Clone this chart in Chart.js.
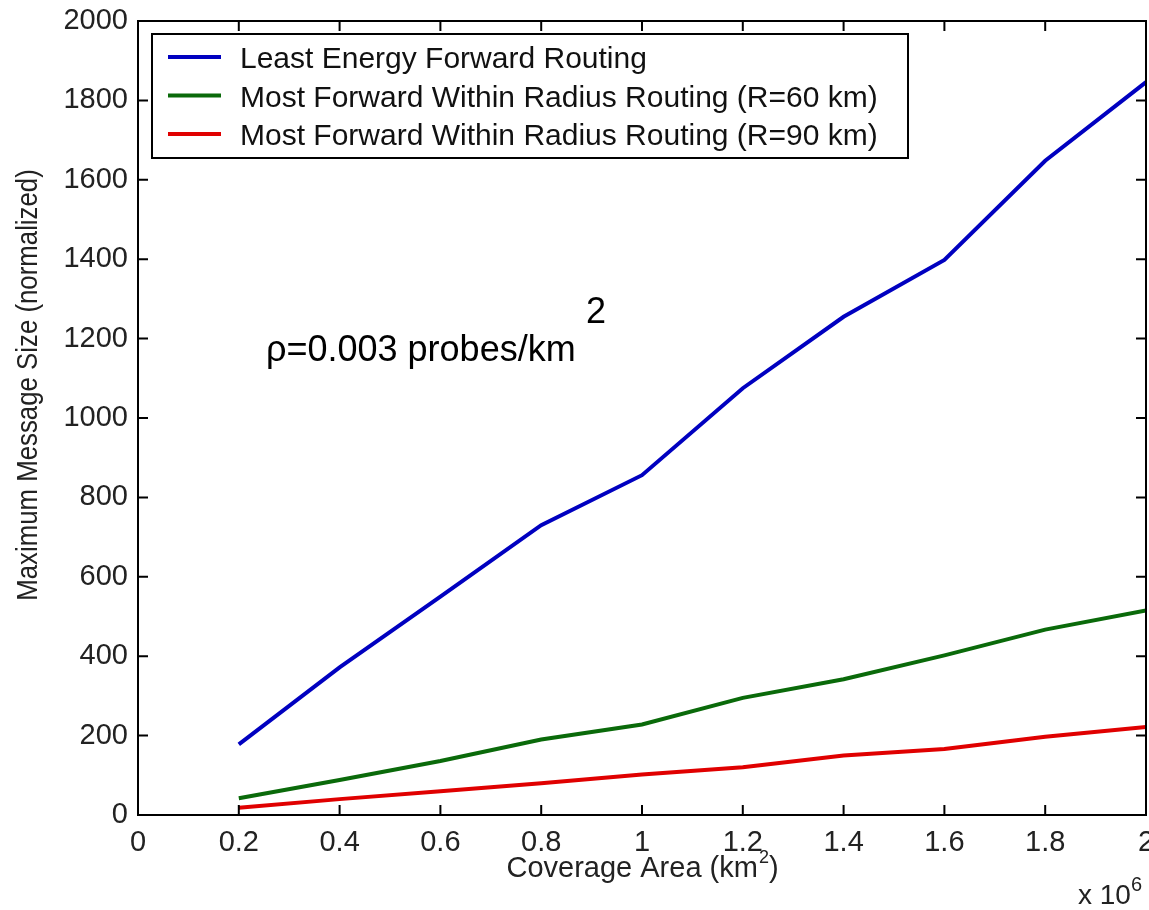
<!DOCTYPE html>
<html>
<head>
<meta charset="utf-8">
<script src="https://cdn.jsdelivr.net/npm/chart.js@4"></script>
<style>
  html, body { margin: 0; padding: 0; background: #fff; }
  #wrap { width: 1149px; height: 910px; }
</style>
</head>
<body>
<div id="wrap"><canvas id="chart"></canvas></div>
<script>
const area = [0.2, 0.4, 0.6, 0.8, 1.0, 1.2, 1.4, 1.6, 1.8, 2.0];
const leastEnergy = [178, 372, 550, 730, 856, 1075, 1255, 1398, 1648, 1846];
const mostForward60 = [42, 88, 136, 190, 228, 295, 342, 402, 467, 515];
const mostForward90 = [18, 40, 60, 80, 102, 120, 150, 166, 197, 222];
const seriesNames = [
  'Least Energy Forward Routing',
  'Most Forward Within Radius Routing (R=60 km)',
  'Most Forward Within Radius Routing (R=90 km)'
];
const seriesColors = ['#0000c0', '#0a6a0a', '#e00000'];

const FONT = '"Liberation Sans", Arial, sans-serif';

function pts(vals) {
  return area.map((x, i) => ({ x: x, y: vals[i] }));
}

// box, inward ticks, legend and free text
const matlabLook = {
  id: 'matlabLook',
  afterDatasetsDraw(chart) {
    const ctx = chart.ctx;
    const a = chart.chartArea;
    const xs = chart.scales.x, ys = chart.scales.y;
    ctx.save();
    ctx.strokeStyle = '#000';
    ctx.lineWidth = 2;
    ctx.strokeRect(a.left, a.top, a.right - a.left, a.bottom - a.top);
    ctx.beginPath();
    xs.ticks.forEach(t => {
      const px = xs.getPixelForValue(t.value);
      ctx.moveTo(px, a.bottom); ctx.lineTo(px, a.bottom - 10);
      ctx.moveTo(px, a.top); ctx.lineTo(px, a.top + 10);
    });
    ys.ticks.forEach(t => {
      const py = ys.getPixelForValue(t.value);
      ctx.moveTo(a.left, py); ctx.lineTo(a.left + 10, py);
      ctx.moveTo(a.right, py); ctx.lineTo(a.right - 10, py);
    });
    ctx.stroke();

    // legend
    const lx = 152, ly = 34, lw = 756, lh = 124;
    ctx.fillStyle = '#fff';
    ctx.fillRect(lx, ly, lw, lh);
    ctx.lineWidth = 2;
    ctx.strokeRect(lx, ly, lw, lh);
    ctx.textBaseline = 'alphabetic';
    ctx.font = '30px ' + FONT;
    chart.data.datasets.forEach((ds, i) => {
      const cy = 57 + i * 38.5;
      ctx.strokeStyle = ds.borderColor;
      ctx.lineWidth = 4;
      ctx.beginPath();
      ctx.moveTo(168, cy); ctx.lineTo(221, cy);
      ctx.stroke();
      ctx.fillStyle = '#111';
      ctx.fillText(ds.label, 240, cy + 11);
    });

    // annotation
    ctx.fillStyle = '#000';
    ctx.font = '36px ' + FONT;
    ctx.fillText('\u03c1=0.003 probes/km', 266, 361);
    ctx.fillText('2', 586, 323);

    // axis titles
    ctx.fillStyle = '#222';
    const t1 = 'Coverage Area (km';
    ctx.font = '29px ' + FONT;
    const w1 = ctx.measureText(t1).width;
    const wp = ctx.measureText(')').width;
    ctx.font = '18px ' + FONT;
    const w2 = ctx.measureText('2').width;
    let x0 = (a.left + a.right) / 2 - (w1 + w2 + wp) / 2;
    ctx.font = '29px ' + FONT;
    ctx.fillText(t1, x0, 877);
    ctx.fillText(')', x0 + w1 + w2 + 1, 877);
    ctx.font = '18px ' + FONT;
    ctx.fillText('2', x0 + w1 + 1, 863);

    ctx.font = '28px ' + FONT;
    ctx.fillText('x 10', 1078, 904);
    ctx.font = '20px ' + FONT;
    ctx.fillText('6', 1131, 891);

    ctx.save();
    ctx.translate(37, 385);
    ctx.rotate(-Math.PI / 2);
    ctx.scale(0.86, 1);
    ctx.font = '30px ' + FONT;
    ctx.textAlign = 'center';
    ctx.fillText('Maximum Message Size (normalized)', 0, 0);
    ctx.restore();
    ctx.restore();
  }
};

const datasets = [leastEnergy, mostForward60, mostForward90].map((vals, i) => ({
  label: seriesNames[i],
  data: pts(vals),
  borderColor: seriesColors[i],
  backgroundColor: seriesColors[i],
  borderWidth: 4,
  pointRadius: 0,
  tension: 0,
  fill: false
}));

new Chart(document.getElementById('chart'), {
  type: 'line',
  data: { datasets: datasets },
  options: {
    responsive: true,
    maintainAspectRatio: false,
    animation: false,
    layout: { padding: { top: 21, right: 3, left: 0, bottom: 0 } },
    plugins: { legend: { display: false }, tooltip: { enabled: false } },
    scales: {
      x: {
        type: 'linear',
        min: 0, max: 2,
        grid: { display: false, drawTicks: false },
        border: { display: false },
        ticks: {
          stepSize: 0.2,
          padding: 11,
          color: '#222',
          maxRotation: 0,
          autoSkip: false,
          font: { family: FONT, size: 29 },
          callback: v => Number(v.toFixed(1)).toString()
        },
        afterFit(s) { s.height = 95; s.paddingLeft = 0; s.paddingRight = 0; }
      },
      y: {
        min: 0, max: 2000,
        grid: { display: false, drawTicks: false },
        border: { display: false },
        ticks: {
          stepSize: 200,
          padding: 10,
          color: '#222',
          font: { family: FONT, size: 29 },
          callback: v => String(v)
        },
        afterFit(s) { s.width = 138; s.paddingTop = 0; s.paddingBottom = 0; }
      }
    }
  },
  plugins: [matlabLook]
});
</script>
</body>
</html>
